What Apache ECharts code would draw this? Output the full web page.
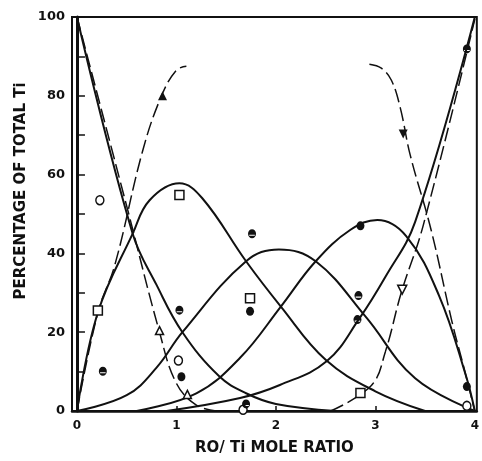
<!DOCTYPE html>
<html>
<head>
<meta charset="utf-8">
<script src="https://cdn.jsdelivr.net/npm/echarts@6/dist/echarts.min.js"></script>
<style>
  html, body { margin: 0; padding: 0; background: #fff; }
  #main { width: 482px; height: 461px; }
</style>
</head>
<body>
<div id="main"></div>
<script>
// axis labels
var xLabels = [0, 1, 2, 3, 4];
var xTickValues = [1, 2, 3];

// solid curves, [RO/Ti ratio, percent]
var curveA = [[0, 100], [0.56, 45], [0.8, 32], [1.06, 20], [1.43, 8.8], [1.7, 4.5], [2.0, 1.8], [2.6, 0]];
var curveB = [[0, 0], [0.21, 25], [0.56, 45], [0.73, 53.5], [1.03, 57.8], [1.26, 54], [1.7, 38], [2.05, 26.5], [2.5, 13], [3.0, 5], [3.5, 0]];
var curveC = [[0, 0], [0.5, 4], [0.8, 11], [1.06, 20], [1.7, 38], [2.03, 41], [2.4, 38], [2.9, 24], [3.4, 8.3], [4, 0]];
var curveD = [[0.6, 0], [1.2, 4.5], [1.64, 13.5], [2.05, 26.5], [2.4, 38], [2.75, 46], [3.02, 48.5], [3.31, 44.4], [3.64, 29.3], [3.91, 9], [4, 0]];
var curveE = [[0.9, 0], [1.64, 3.3], [2.04, 6.6], [2.51, 12.6], [2.84, 23.5], [3.1, 34], [3.4, 48], [4, 100]];

// dashed curves
var dashF = [[0, 0], [0.21, 25], [0.38, 37], [0.66, 66], [0.85, 80], [1.0, 86.5], [1.1, 87.5]];
var dashG = [[0, 100], [0.5, 52], [0.83, 20], [1.0, 7], [1.2, 1.5], [1.4, 0]];
var dashH = [[2.94, 88], [3.06, 87], [3.16, 84], [3.25, 77], [3.35, 65], [3.56, 46], [3.77, 22.7], [3.88, 12], [4, 0]];
var dashI = [[2.55, 0], [2.96, 6.5], [3.1, 15], [3.26, 30], [3.48, 47], [4, 99.5]];

// measured points
var openCircles = [[0.23, 53.5], [1.02, 12.8], [1.67, 0.3], [3.92, 1.3]];
var filledCircles = [[1.05, 8.7], [1.74, 25.3], [2.85, 47], [3.92, 6.2]];
var barredCircles = [[0.26, 10.1], [1.03, 25.6], [1.76, 45], [1.7, 1.8], [2.83, 29.3], [2.82, 23.2], [3.92, 91.9]];
var openSquares = [[0.21, 25.5], [1.03, 54.8], [1.74, 28.6], [2.85, 4.6]];
var openTriangles = [[0.83, 20.4], [1.11, 4.2]];
var filledTriangles = [[0.86, 80]];
var filledDownTriangles = [[3.28, 70.3]];
var openDownTriangles = [[3.27, 30.8]];

var barredPath = 'path://M10 0 A10 10 0 1 1 10 20 A10 10 0 1 1 10 0 Z M3 12.2 L3 14.6 L17 14.6 L17 12.2 Z';

function solid(data) {
  return {
    type: 'line', data: data, symbol: 'none', smooth: 0.4,
    lineStyle: { color: '#111', width: 2 }, z: 3
  };
}
function dashed(data) {
  return {
    type: 'line', data: data, symbol: 'none', smooth: 0.4,
    lineStyle: { color: '#111', width: 1.5, type: [14, 5] }, z: 2
  };
}
function points(data, symbol, size, fill, rotate) {
  return {
    type: 'scatter', data: data, symbol: symbol, symbolSize: size, symbolRotate: rotate || 0,
    itemStyle: { color: fill, opacity: 1, borderColor: '#111', borderWidth: fill === '#fff' ? 1.5 : 0 },
    z: 5
  };
}

var chart = echarts.init(document.getElementById('main'));
var textFont = 'DejaVu Sans';
chart.setOption({
  animation: false,
  backgroundColor: '#fff',
  grid: { left: 72, right: 3, top: 17, bottom: 48, show: true, borderColor: '#111', borderWidth: 2, backgroundColor: 'transparent' },
  xAxis: {
    type: 'value', min: -0.05, max: 4.02,
    name: 'RO/ Ti MOLE RATIO', nameLocation: 'middle', nameGap: 30,
    nameTextStyle: { fontFamily: textFont, fontSize: 15, fontWeight: 'bold', color: '#111' },
    axisLine: { show: true, lineStyle: { color: '#111', width: 2.5 } },
    axisTick: { show: true, inside: true, length: 5, customValues: xTickValues, lineStyle: { color: '#111', width: 1.5 } },
    axisLabel: { customValues: xLabels, margin: 9, fontFamily: textFont, fontSize: 12, fontWeight: 'bold', color: '#111' },
    splitLine: { show: false }
  },
  yAxis: {
    type: 'value', min: 0, max: 100, interval: 10,
    axisLine: { show: true, lineStyle: { color: '#111', width: 3 } },
    axisTick: { show: true, inside: true, length: 8, lineStyle: { color: '#111', width: 1.5 } },
    axisLabel: {
      margin: 7, fontFamily: textFont, fontSize: 13, fontWeight: 'bold', color: '#111',
      formatter: function (v) { return v % 20 === 0 ? String(v) : ''; }
    },
    splitLine: { show: false }
  },
  graphic: [{
    type: 'text', x: 21, y: 191, rotation: Math.PI / 2,
    style: { text: 'PERCENTAGE OF TOTAL Ti', font: 'bold 15px "DejaVu Sans"', fill: '#111', textAlign: 'center', textVerticalAlign: 'middle' }
  }],
  series: [
    solid(curveA), solid(curveB), solid(curveC), solid(curveD), solid(curveE),
    dashed(dashF), dashed(dashG), dashed(dashH), dashed(dashI),
    points(openCircles, 'circle', [8, 9], '#fff'),
    points(filledCircles, 'circle', [8, 9], '#111'),
    points(barredCircles, barredPath, [8, 9], '#111'),
    points(openSquares, 'rect', 9, '#fff'),
    points(openTriangles, 'triangle', 8, '#fff'),
    points(filledTriangles, 'triangle', 9, '#111'),
    points(filledDownTriangles, 'triangle', 9, '#111', 180),
    points(openDownTriangles, 'triangle', 9, '#fff', 180)
  ]
});
</script>
</body>
</html>
